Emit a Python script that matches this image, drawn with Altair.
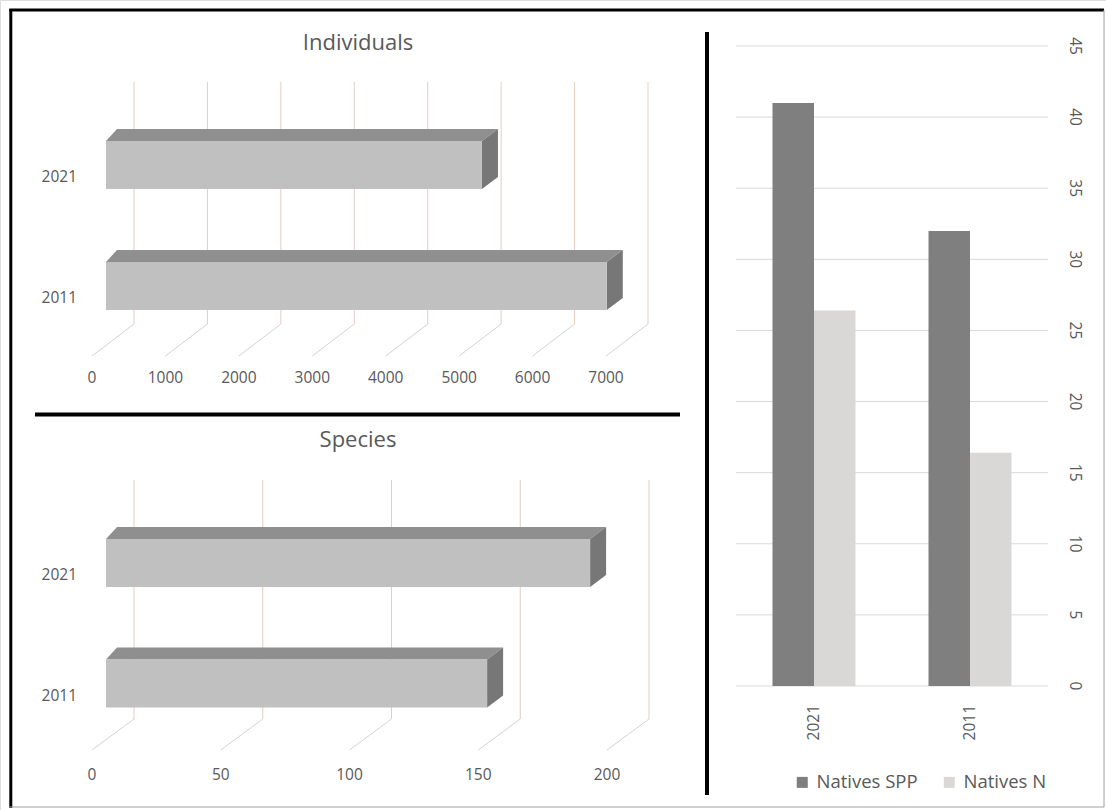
import altair as alt
import pandas as pd

# ---------------- data ----------------
years = ["2021", "2011"]
individuals = [5120, 6820]
species_counts = [188, 148]
individual_ticks = [0, 1000, 2000, 3000, 4000, 5000, 6000, 7000]
species_ticks = [0, 50, 100, 150, 200]
series = ["Natives SPP", "Natives N"]
natives_spp = [41, 32]
natives_n = [26.4, 16.4]
right_ticks = [0, 5, 10, 15, 20, 25, 30, 35, 40, 45]

# ---------------- style / layout ----------------
FONT = "Open Sans"
TXT = "#595959"
FRONT = "#bfc0bf"
TOPC = "#8f8f8f"
SIDE = "#777777"
WALL = "#e5cdc2"
FLOOR = "#d3d3d3"
W, H = 1106, 810


def panel3d(title, values, ticks, g):
    k, back0, c0, s = g["k"], g["back0"], g["c0"], g["step"]

    def uy(py):
        return (py - c0) / s

    xs = alt.Scale(domain=[0, ticks[-1]], range=[back0, back0 + k * ticks[-1]], nice=False, zero=False)
    ys = alt.Scale(domain=[0, 1], range=[c0, c0 + s], nice=False, zero=False)
    X = lambda f: alt.X(f, scale=xs, axis=None)
    Y = lambda f: alt.Y(f, scale=ys, axis=None, stack=None)

    fx = (g["front0"] - back0) / k
    h, dy = g["h"] / s, g["dy"] / s
    dxl, dxr = g["dxl"] / k, g["dxr"] / k

    bars, tops, sides = [], [], []
    for i, (yr, v) in enumerate(zip(years, values)):
        x0, x1 = fx, fx + v
        bars.append({"year": yr, "x0": x0, "x1": x1, "yt": i - h, "yb": i + h})
        tops += [
            {"year": yr, "x": x0, "top": i - h, "bot": i - h},
            {"year": yr, "x": x0 + dxl, "top": i - h - dy, "bot": i - h},
            {"year": yr, "x": x1, "top": i - h - dy, "bot": i - h},
            {"year": yr, "x": x1 + dxr, "top": i - h - dy, "bot": i - h - dy},
        ]
        sides += [
            {"year": yr, "x": x1, "top": i - h, "bot": i + h},
            {"year": yr, "x": x1 + dxr, "top": i - h - dy, "bot": i + h - dy},
        ]
    bars, tops, sides = pd.DataFrame(bars), pd.DataFrame(tops), pd.DataFrame(sides)

    fdx = g["floor_dx"] / k
    tk = pd.DataFrame({
        "v": ticks,
        "vf": [t - fdx for t in ticks],
        "label": [str(t) for t in ticks],
        "wt": uy(g["wall_top"]),
        "wb": uy(g["wall_bot"]),
        "ff": uy(g["wall_bot"] + g["floor_dy"]),
        "ly": uy(g["label_y"]),
    })
    yl = pd.DataFrame({
        "year": years,
        "x": (g["ylabel_x"] - back0) / k,
        "y": [i + g["ylabel_dy"] / s for i in range(len(years))],
    })
    tt = pd.DataFrame({"t": [title], "x": (358 - back0) / k, "y": uy(g["title_y"])})

    grid = alt.Chart(tk).mark_rule(color=WALL, strokeWidth=1).encode(
        x=X("v:Q"), y=Y("wt:Q"), y2="wb:Q")
    floor = alt.Chart(tk).mark_rule(color=FLOOR, strokeWidth=1).encode(
        x=X("v:Q"), x2="vf:Q", y=Y("wb:Q"), y2="ff:Q")
    topf = alt.Chart(tops).mark_area(color=TOPC, orient="vertical", opacity=1).encode(
        x=X("x:Q"), y=Y("top:Q"), y2="bot:Q", detail="year:N")
    sidef = alt.Chart(sides).mark_area(color=SIDE, orient="vertical", opacity=1).encode(
        x=X("x:Q"), y=Y("top:Q"), y2="bot:Q", detail="year:N")
    front = alt.Chart(bars).mark_rect(color=FRONT).encode(
        x=X("x0:Q"), x2="x1:Q", y=Y("yt:Q"), y2="yb:Q")
    tlab = alt.Chart(tk).mark_text(font=FONT, fontSize=15.5, color=TXT, align="center", baseline="middle").encode(
        x=X("vf:Q"), y=Y("ly:Q"), text="label:N")
    ylab = alt.Chart(yl).mark_text(font=FONT, fontSize=15.5, color=TXT, align="right", baseline="middle").encode(
        x=X("x:Q"), y=Y("y:Q"), text="year:N")
    ttl = alt.Chart(tt).mark_text(font=FONT, fontSize=22, color=TXT, align="center", baseline="middle").encode(
        x=X("x:Q"), y=Y("y:Q"), text="t:N")
    return [grid, floor, topf, sidef, front, tlab, ylab, ttl]


ind_geo = dict(k=514 / 7000, back0=134, front0=106, c0=165, step=121,
               wall_top=82, wall_bot=324, floor_dx=42, floor_dy=32, label_y=378, title_y=43,
               h=24, dy=12, dxl=11, dxr=16, ylabel_x=77, ylabel_dy=12)
sp_geo = dict(k=515 / 200, back0=134, front0=106, c0=563, step=120.5,
              wall_top=480, wall_bot=719, floor_dx=42, floor_dy=31, label_y=775, title_y=440,
              h=24, dy=12, dxl=11, dxr=16, ylabel_x=77, ylabel_dy=12)

# ---------------- decoration lines (page px) ----------------
one = pd.DataFrame({"i": [0]})


def line(x1, y1, x2, y2, color, w):
    return alt.Chart(one).mark_rule(color=color, strokeWidth=w).encode(
        x=alt.value(x1), x2=alt.value(x2), y=alt.value(y1), y2=alt.value(y2))


deco = [
    line(10.8, 9, 10.8, 808, "black", 3),
    line(9.3, 10, 1104, 10, "black", 3),
    line(1104, 10, 1104, 807, "#a0a0a0", 1),
    line(9.3, 807, 1104, 807, "#a0a0a0", 1),
    line(35, 414.5, 680, 414.5, "black", 4),
    line(707, 32, 707, 795, "black", 4),
]

# ---------------- right chart ----------------
R_X0, R_X1, R_Y0, R_Y1 = 736, 1048, 686, 46
df_r = pd.DataFrame({
    "year": years * 2,
    "series": [series[0]] * len(years) + [series[1]] * len(years),
    "value": natives_spp + natives_n,
})
ry = alt.Scale(domain=[0, 45], range=[R_Y0, R_Y1], nice=False, zero=False)
rx = alt.Scale(domain=years, range=[R_X0, R_X1], paddingInner=0.468, paddingOuter=0.234)

rgrid = alt.Chart(pd.DataFrame({"t": right_ticks})).mark_rule(color="#d9d9d9", strokeWidth=1).encode(
    y=alt.Y("t:Q", scale=ry, axis=None), x=alt.value(R_X0), x2=alt.value(R_X1))
rbars = alt.Chart(df_r).mark_bar().encode(
    x=alt.X("year:N", sort=years, scale=rx, axis=None),
    xOffset=alt.XOffset("series:N", sort=series, scale=alt.Scale(paddingInner=0, paddingOuter=0)),
    y=alt.Y("value:Q", scale=ry, axis=None),
    color=alt.Color("series:N", sort=series,
                    scale=alt.Scale(domain=series, range=["#7f7f7f", "#d9d8d6"]),
                    legend=alt.Legend(title=None, orient="none", legendX=793, legendY=773,
                                      direction="horizontal", symbolType="square", symbolSize=121,
                                      labelFont=FONT, labelFontSize=18.5, labelColor=TXT,
                                      columnPadding=22, labelOffset=5, padding=0,
                                      symbolStrokeWidth=0)),
)
rylab = alt.Chart(pd.DataFrame({"t": right_ticks})).mark_text(
    font=FONT, fontSize=15.5, color=TXT, angle=90, align="center", baseline="middle").encode(
    y=alt.Y("t:Q", scale=ry, axis=None), x=alt.value(1075), text="t:N")
rxlab = alt.Chart(pd.DataFrame({"year": years})).mark_text(
    font=FONT, fontSize=15.5, color=TXT, angle=270, align="right", baseline="middle").encode(
    x=alt.X("year:N", sort=years, scale=rx, axis=None), y=alt.value(705), text="year:N")

layers = (panel3d("Individuals", individuals, individual_ticks, ind_geo)
          + panel3d("Species", species_counts, species_ticks, sp_geo)
          + [rgrid, rbars, rylab, rxlab] + deco)

chart = alt.layer(*layers).resolve_scale(x="independent", y="independent").properties(
    width=W, height=H, padding=0, autosize=alt.AutoSizeParams(type="none")
).configure_view(stroke="transparent").configure(font=FONT)

chart.save("out.html", embed_options={"renderer": "svg", "actions": False})
